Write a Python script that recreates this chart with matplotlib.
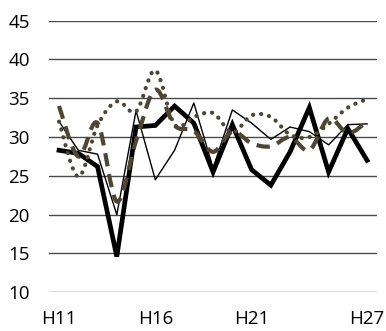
import matplotlib
matplotlib.use("Agg")
import matplotlib.pyplot as plt
from matplotlib.path import Path
from matplotlib.patches import PathPatch
import numpy as np

plt.rcParams['font.family'] = ['Open Sans', 'DejaVu Sans']

categories = ["H11", "H12", "H13", "H14", "H15", "H16", "H17", "H18", "H19",
              "H20", "H21", "H22", "H23", "H24", "H25", "H26", "H27"]
shown_labels = ["H11", "H16", "H21", "H27"]

thick_black = [28.3, 27.9, 26.2, 14.6, 31.3, 31.5, 34.0, 31.8, 25.5, 31.6,
               25.8, 23.8, 28.1, 33.8, 25.5, 31.1, 27.0]
thin_black = [32.0, 28.3, 27.8, 20.0, 33.4, 24.5, 28.3, 34.4, 26.0, 33.5,
              31.8, 29.7, 31.3, 30.7, 29.0, 31.6, 31.7]
dashed_olive = [34.0, 27.5, 31.8, 21.7, 29.5, 36.1, 31.5, 30.8, 28.1, 30.7,
                29.2, 28.8, 30.0, 28.3, 32.4, 30.5, 32.0]
dotted_olive = [32.0, 24.9, 31.5, 34.6, 33.3, 38.6, 31.6, 32.6, 33.1, 30.6,
                32.8, 32.6, 30.3, 30.0, 31.7, 33.8, 34.9]

olive = '#4d4632'

fig = plt.figure(figsize=(3.86, 3.31), dpi=100)
ax = fig.add_axes([0.128, 0.117, 0.848, 0.8205])

x = np.arange(len(categories))


def smooth_path(xs, ys):
    pts = np.column_stack([xs, ys]).astype(float)
    n = len(pts)
    verts = [pts[0]]
    codes = [Path.MOVETO]
    for i in range(n - 1):
        p0 = pts[i - 1] if i > 0 else pts[i]
        p1 = pts[i]
        p2 = pts[i + 1]
        p3 = pts[i + 2] if i + 2 < n else pts[i + 1]
        c1 = p1 + (p2 - p0) / 6.0
        c2 = p2 - (p3 - p1) / 6.0
        verts += [c1, c2, p2]
        codes += [Path.CURVE4, Path.CURVE4, Path.CURVE4]
    return Path(verts, codes)


for yv in range(10, 50, 5):
    ax.axhline(yv, color='#4a4a4a', lw=1.0, zorder=0)

ax.plot(x, thick_black, color='black', lw=3.4, zorder=3, solid_joinstyle='miter')
ax.plot(x, thin_black, color='black', lw=1.0, zorder=4)

p_dash = PathPatch(smooth_path(x, dashed_olive), facecolor='none', edgecolor=olive,
                   lw=3.0, linestyle=(0, (3.2, 1.9)), capstyle='butt', zorder=5)
ax.add_patch(p_dash)
p_dot = PathPatch(smooth_path(x, dotted_olive), facecolor='none', edgecolor=olive,
                  lw=3.0, linestyle=(0, (0.05, 1.9)), capstyle='round', zorder=6)
ax.add_patch(p_dot)

ax.set_xlim(-0.5, len(categories) - 0.5)
ax.set_ylim(10, 45)
ax.set_yticks(range(10, 50, 5))
ax.set_xticks([categories.index(c) for c in shown_labels])
ax.set_xticklabels(shown_labels)
for s in ax.spines.values():
    s.set_visible(False)
ax.tick_params(axis='both', length=0, labelsize=13.5, colors='black')
ax.tick_params(axis='y', pad=14)
ax.tick_params(axis='x', pad=13)

fig.savefig('out.png', dpi=100)
